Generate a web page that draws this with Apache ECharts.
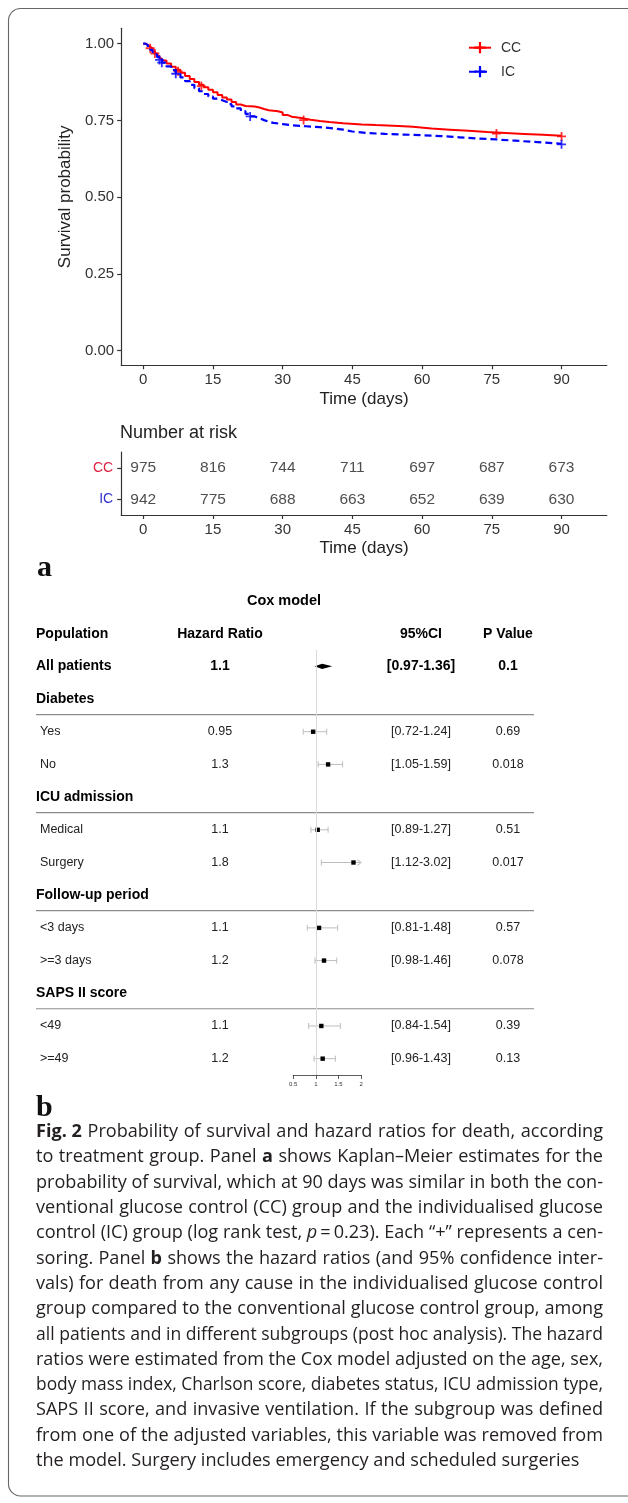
<!DOCTYPE html>
<html><head><meta charset="utf-8">
<script src="https://cdn.jsdelivr.net/npm/echarts@6/dist/echarts.min.js"></script>
<style>html,body{margin:0;padding:0;background:#fff}#c{width:628px;height:1503px}</style>
</head><body><div id="c"></div>
<script>
// ---------------- data ----------------
const timeTicks = [0, 15, 30, 45, 60, 75, 90];
const survTicks = [0, 0.25, 0.5, 0.75, 1];

const ccCurve = [[0,1.0],[0.5,0.995],[1,0.99],[1.5,0.985],[2,0.975],[2.5,0.968],[3,0.96],[3.5,0.952],[4,0.945],[5,0.935],[6,0.925],[7,0.915],[8,0.905],[9,0.895],[10,0.885],[11,0.875],[12,0.866],[13,0.858],[14,0.85],[15,0.842],[16,0.833],[17,0.825],[18,0.818],[19,0.81],[20,0.802],[21,0.797],[22,0.795],[24,0.792],[25,0.787],[26,0.783],[27,0.78],[29,0.776],[30,0.768],[31,0.762],[32,0.758],[34,0.752],[36,0.748],[38,0.745],[40,0.741],[43,0.737],[47,0.735],[50,0.732],[55,0.729],[58,0.724],[62,0.72],[66,0.716],[70,0.712],[74,0.709],[78,0.706],[82,0.703],[86,0.7],[90,0.698]];
const icCurve = [[0,1.0],[0.5,0.995],[1,0.988],[1.5,0.98],[2,0.972],[2.5,0.965],[3,0.956],[3.5,0.947],[4,0.938],[5,0.926],[6,0.914],[7,0.902],[8,0.89],[9,0.878],[10,0.866],[11,0.855],[12,0.845],[13,0.836],[14,0.828],[15,0.821],[16,0.816],[17,0.81],[18,0.803],[19,0.796],[20,0.789],[21,0.78],[22,0.771],[23,0.763],[24,0.757],[25,0.751],[26,0.746],[27,0.742],[28,0.738],[30,0.734],[32,0.731],[35,0.728],[38,0.724],[41,0.72],[43,0.714],[45,0.709],[48,0.706],[52,0.704],[56,0.702],[60,0.699],[64,0.695],[68,0.691],[72,0.688],[76,0.684],[80,0.68],[84,0.676],[88,0.674],[90,0.672]];
const ccCensor = [[1.5,0.985],[2.5,0.968],[7.5,0.91],[12.5,0.862],[34.5,0.751],[76,0.707],[90,0.698]];
const icCensor = [[3.5,0.947],[4,0.938],[7,0.902],[23,0.763],[90,0.672]];

const riskGroups = ['CC', 'IC'];
const ccAtRisk = [975, 816, 744, 711, 697, 687, 673];
const icAtRisk = [942, 775, 688, 663, 652, 639, 630];

const forestRows = ['All patients','Diabetes','Yes','No','ICU admission','Medical','Surgery','Follow-up period','<3 days','>=3 days','SAPS II score','<49','>=49'];
const rowKind   = ['all','group','sub','sub','group','sub','sub','group','sub','sub','group','sub','sub'];
const hrText    = ['1.1',null,'0.95','1.3',null,'1.1','1.8',null,'1.1','1.2',null,'1.1','1.2'];
const hrPlot    = [1.14,null,0.94,1.27,null,1.04,1.83,null,1.07,1.18,null,1.12,1.15];
const ciLow     = [0.97,null,0.72,1.05,null,0.89,1.12,null,0.81,0.98,null,0.84,0.96];
const ciHigh    = [1.36,null,1.24,1.59,null,1.27,3.02,null,1.48,1.46,null,1.54,1.43];
const pText     = ['0.1',null,'0.69','0.018',null,'0.51','0.017',null,'0.57','0.078',null,'0.39','0.13'];
const forestTicks = [0.5, 1, 1.5, 2];
const forestHeaders = ['Population', 'Hazard Ratio', '95%CI', 'P Value'];

const captionLines = [
  '{b|Fig.~2} Probability of survival and hazard ratios for death, according',
  'to treatment group. Panel {b|a} shows Kaplan\u2013Meier estimates for the',
  'probability of survival, which at 90 days was similar in both the con-',
  'ventional glucose control (CC) group and the individualised glucose',
  'control (IC) group (log rank test, {i|p}\u2009=\u20090.23). Each \u201c+\u201d represents a cen-',
  'soring. Panel {b|b} shows the hazard ratios (and 95% confidence inter-',
  'vals) for death from any cause in the individualised glucose control',
  'group compared to the conventional glucose control group, among',
  'all patients and in different subgroups (post hoc analysis). The hazard',
  'ratios were estimated from the Cox model adjusted on the age, sex,',
  'body mass index, Charlson score, diabetes status, ICU admission type,',
  'SAPS II score, and invasive ventilation. If the subgroup was defined',
  'from one of the adjusted variables, this variable was removed from',
  'the model. Surgery includes emergency and scheduled surgeries'
];

// ---------------- layout / style ----------------
const FONT = '"Liberation Sans", Arial, sans-serif';
const CAP_FONT = '"Open Sans"';
const CAP_SIZE = 18.2;
const PLUS = 'path://M-1,-5H1V5H-1Z M-5,-1H5V1H-5Z';
const RED = '#ff0000', BLUE = '#0000ff';

// caption layout (justified lines)
const cv = document.createElement('canvas').getContext('2d');
function segs(tok) {
  const out = []; const re = /\{(\w)\|([^}]*)\}|([^{]+)/g; let m;
  while ((m = re.exec(tok))) {
    if (m[1]) out.push({ st: m[1], t: m[2].replace(/~/g, ' ') });
    else out.push({ st: '', t: m[3].replace(/~/g, ' ') });
  }
  return out;
}
function fontOf(st) { return (st === 'i' ? 'italic ' : '') + (st === 'b' ? 'bold ' : '') + CAP_SIZE + 'px ' + CAP_FONT; }
function tokW(tok) { return segs(tok).reduce((a, s) => { cv.font = fontOf(s.st); return a + cv.measureText(s.t).width; }, 0); }
cv.font = fontOf('');
const SPACE = cv.measureText(' ').width;
const CAP_LEFT = 36, CAP_W = 567, CAP_Y0 = 1132, CAP_DY = 25.3;
const capTok = captionLines.map(l => l.split(' '));
const capWs = capTok.map(ts => ts.map(tokW));
const capSum = capWs.map(ws => ws.reduce((a, b) => a + b, 0));
const nat = capWs.map((ws, i) => capSum[i] + (ws.length - 1) * SPACE);
const justified = nat.slice(0, nat.length - 1);
const baseScale = Math.min(1, CAP_W / (justified.reduce((a, b) => a + b, 0) / justified.length));
const capRich = {
  b: { fontWeight: 'bold', fontSize: CAP_SIZE, fontFamily: CAP_FONT, fill: '#231f20' },
  i: { fontStyle: 'italic', fontSize: CAP_SIZE, fontFamily: CAP_FONT, fill: '#231f20' }
};
const captionGraphics = capTok.map((ts, li) => {
  const ws = capWs[li];
  const sum = capSum[li];
  const last = li === capTok.length - 1;
  const n = ts.length;
  // tighten a line that would otherwise have too-small word gaps
  const s = last ? baseScale : Math.min(baseScale, CAP_W / (sum + (n - 1) * 1.0 * SPACE));
  const gap = last ? SPACE : (CAP_W / s - sum) / (n - 1);
  let x = 0;
  const kids = ts.map((tok, k) => {
    const el = {
      type: 'text', x: x, y: 0,
      style: {
        text: segs(tok).map(sg => sg.st ? '{' + sg.st + '|' + sg.t + '}' : sg.t).join(''),
        fontSize: CAP_SIZE, fontFamily: CAP_FONT, fill: '#231f20',
        rich: capRich, align: 'left', verticalAlign: 'middle'
      }
    };
    x += ws[k] + gap;
    return el;
  });
  return { type: 'group', x: CAP_LEFT, y: CAP_Y0 + li * CAP_DY, scaleX: s, children: kids };
});

function txt(x, y, t, bold, align, size) {
  return { type: 'text', x: x, y: y, style: {
    text: t, fontFamily: FONT, fontWeight: bold ? 'bold' : 'normal',
    fontSize: size || (bold ? 14 : 12.5), fill: bold ? '#000' : '#222',
    align: align, verticalAlign: 'middle' } };
}

const axisLineStyle = { color: '#333', width: 1.2 };

const option = {
  animation: false,
  backgroundColor: '#fff',
  grid: [
    { left: 121.2, top: 28.3, width: 485.6, height: 337 },
    { left: 121.2, top: 452, width: 485.6, height: 63 },
    { left: 293.2, top: 650, width: 68, height: 425 }
  ],
  xAxis: [
    { gridIndex: 0, type: 'value', min: -4.74, max: 99.74,
      axisLine: { show: true, onZero: false, lineStyle: axisLineStyle },
      axisTick: { show: true, customValues: timeTicks, length: 4, lineStyle: axisLineStyle },
      axisLabel: { customValues: timeTicks, fontSize: 15, color: '#333', margin: 7, fontFamily: FONT },
      splitLine: { show: false },
      name: 'Time (days)', nameLocation: 'middle', nameGap: 26,
      nameTextStyle: { fontSize: 17, color: '#222', fontFamily: FONT } },
    { gridIndex: 1, type: 'value', min: -4.74, max: 99.74,
      axisLine: { show: true, onZero: false, lineStyle: axisLineStyle },
      axisTick: { show: true, customValues: timeTicks, length: 4, lineStyle: axisLineStyle },
      axisLabel: { customValues: timeTicks, fontSize: 15, color: '#333', margin: 7.5, fontFamily: FONT },
      splitLine: { show: false },
      name: 'Time (days)', nameLocation: 'middle', nameGap: 24.5,
      nameTextStyle: { fontSize: 17, color: '#222', fontFamily: FONT } },
    { gridIndex: 2, type: 'value', min: 0.5, max: 2, interval: 0.5,
      axisLine: { show: true, onZero: false, lineStyle: { color: '#333', width: 0.8 } },
      axisTick: { show: true, length: 4, lineStyle: { color: '#333', width: 0.8 } },
      axisLabel: { fontSize: 6, color: '#333', margin: 6, fontFamily: FONT },
      splitLine: { show: false } }
  ],
  yAxis: [
    { gridIndex: 0, type: 'value', min: -0.0475, max: 1.05,
      axisLine: { show: true, onZero: false, lineStyle: axisLineStyle },
      axisTick: { show: true, customValues: survTicks, length: 4, lineStyle: axisLineStyle },
      axisLabel: { customValues: survTicks, formatter: v => Number(v).toFixed(2), fontSize: 15, color: '#333', margin: 7, fontFamily: FONT },
      splitLine: { show: false },
      name: 'Survival probability', nameLocation: 'middle', nameGap: 46,
      nameTextStyle: { fontSize: 17, color: '#222', fontFamily: FONT } },
    { gridIndex: 1, type: 'category', data: riskGroups, inverse: true,
      axisLine: { show: true, onZero: false, lineStyle: axisLineStyle },
      axisTick: { show: true, length: 4, alignWithLabel: true, lineStyle: axisLineStyle },
      axisLabel: { fontSize: 14, margin: 8, fontFamily: FONT, color: v => (v === 'CC' ? '#dc2040' : '#3030d0') },
      splitLine: { show: false } },
    { gridIndex: 2, type: 'category', data: forestRows, inverse: true, show: false }
  ],
  legend: {
    data: ['CC', 'IC'], left: 468, top: 40.7, orient: 'vertical', padding: 0,
    itemWidth: 22, itemHeight: 14, itemGap: 10, selectedMode: false,
    textStyle: { fontSize: 14, color: '#333', fontFamily: FONT, padding: [0, 0, 0, 5] }
  },
  series: [
    { name: 'CC', type: 'line', xAxisIndex: 0, yAxisIndex: 0, data: ccCurve, step: 'end',
      showSymbol: false, symbol: PLUS, symbolSize: 10, silent: true,
      lineStyle: { color: RED, width: 2 }, itemStyle: { color: RED }, z: 2 },
    { name: 'CC', type: 'scatter', xAxisIndex: 0, yAxisIndex: 0, data: ccCensor,
      symbol: PLUS, symbolSize: 9, itemStyle: { color: RED }, silent: true, z: 3 },
    { name: 'IC', type: 'line', xAxisIndex: 0, yAxisIndex: 0, data: icCurve, step: 'end',
      showSymbol: false, symbol: PLUS, symbolSize: 10, silent: true,
      lineStyle: { color: BLUE, width: 2.2, type: [7, 4] }, itemStyle: { color: BLUE }, z: 4 },
    { name: 'IC', type: 'scatter', xAxisIndex: 0, yAxisIndex: 0, data: icCensor,
      symbol: PLUS, symbolSize: 9, itemStyle: { color: BLUE }, silent: true, z: 5 },
    { name: 'riskCC', type: 'scatter', xAxisIndex: 1, yAxisIndex: 1,
      data: timeTicks.map((t, k) => [t, 'CC', ccAtRisk[k]]),
      symbolSize: 1, itemStyle: { color: 'rgba(0,0,0,0)' }, silent: true,
      label: { show: true, position: 'inside', formatter: p => String(p.value[2]), fontSize: 15.5, color: '#222', fontFamily: FONT } },
    { name: 'riskIC', type: 'scatter', xAxisIndex: 1, yAxisIndex: 1,
      data: timeTicks.map((t, k) => [t, 'IC', icAtRisk[k]]),
      symbolSize: 1, itemStyle: { color: 'rgba(0,0,0,0)' }, silent: true,
      label: { show: true, position: 'inside', formatter: p => String(p.value[2]), fontSize: 15.5, color: '#222', fontFamily: FONT } },
    { name: 'forest', type: 'custom', xAxisIndex: 2, yAxisIndex: 2, silent: true,
      data: forestRows.map((r, i) => [hrPlot[i] == null ? 1 : hrPlot[i], i]),
      encode: { x: 0, y: 1 },
      markLine: { silent: true, symbol: 'none', label: { show: false },
        lineStyle: { color: '#d9d9d9', width: 1, type: 'solid' }, data: [{ xAxis: 1 }] },
      renderItem: function (params, api) {
        const i = params.dataIndex;
        const kind = rowKind[i];
        const yRow = api.coord([1, i])[1];
        const kids = [];
        kids.push(txt(kind === 'sub' ? 40 : 36, yRow, forestRows[i], kind !== 'sub', 'left'));
        if (kind === 'group') {
          kids.push({ type: 'line', shape: { x1: 36, y1: yRow + 15.5, x2: 534, y2: yRow + 15.5 },
            style: { stroke: '#8c8c8c', lineWidth: 1.2 } });
        }
        if (hrText[i] != null) {
          const b = kind === 'all';
          kids.push(txt(220, yRow, hrText[i], b, 'center'));
          kids.push(txt(421, yRow, '[' + ciLow[i].toFixed(2) + '-' + ciHigh[i].toFixed(2) + ']', b, 'center'));
          kids.push(txt(508, yRow, pText[i], b, 'center'));
          const xMax = forestTicks[forestTicks.length - 1];
          const xl = api.coord([ciLow[i], i])[0];
          const xh = api.coord([Math.min(ciHigh[i], xMax), i])[0];
          const xe = api.coord([hrPlot[i], i])[0];
          if (b) {
            kids.push({ type: 'polygon', shape: { points: [[xl, yRow], [xe, yRow - 2.6], [xh, yRow], [xe, yRow + 2.6]] },
              style: { fill: '#000' } });
          } else {
            kids.push({ type: 'line', shape: { x1: xl, y1: yRow, x2: xh, y2: yRow }, style: { stroke: '#bdbdbd', lineWidth: 1 } });
            kids.push({ type: 'line', shape: { x1: xl, y1: yRow - 3, x2: xl, y2: yRow + 3 }, style: { stroke: '#bdbdbd', lineWidth: 1 } });
            if (ciHigh[i] <= xMax) {
              kids.push({ type: 'line', shape: { x1: xh, y1: yRow - 3, x2: xh, y2: yRow + 3 }, style: { stroke: '#bdbdbd', lineWidth: 1 } });
            } else {
              kids.push({ type: 'polyline', shape: { points: [[xh - 4, yRow - 3], [xh, yRow], [xh - 4, yRow + 3]] },
                style: { stroke: '#bdbdbd', lineWidth: 1, fill: 'none' } });
            }
            kids.push({ type: 'rect', shape: { x: xe - 2.2, y: yRow - 2.2, width: 4.4, height: 4.4 }, style: { fill: '#000' } });
          }
        }
        return { type: 'group', children: kids };
      } }
  ],
  graphic: [
    { type: 'rect', shape: { x: 8.5, y: 8.5, width: 680, height: 1487.5, r: 12 },
      style: { fill: 'none', stroke: '#666', lineWidth: 1.1 }, silent: true, z: 0 },
    { type: 'text', x: 120, y: 433, style: { text: 'Number at risk', fontSize: 18, fontFamily: FONT, fill: '#222', align: 'left', verticalAlign: 'middle' } },
    { type: 'text', x: 37, y: 568, style: { text: 'a', fontSize: 30, fontWeight: 'bold', fontFamily: '"Liberation Serif", serif', fill: '#111', align: 'left', verticalAlign: 'middle' } },
    { type: 'text', x: 284, y: 601, style: { text: 'Cox model', fontSize: 14.5, fontWeight: 'bold', fontFamily: FONT, fill: '#000', align: 'center', verticalAlign: 'middle' } },
    { type: 'text', x: 36, y: 634, style: { text: forestHeaders[0], fontSize: 14, fontWeight: 'bold', fontFamily: FONT, fill: '#000', align: 'left', verticalAlign: 'middle' } },
    { type: 'text', x: 220, y: 634, style: { text: forestHeaders[1], fontSize: 14, fontWeight: 'bold', fontFamily: FONT, fill: '#000', align: 'center', verticalAlign: 'middle' } },
    { type: 'text', x: 421, y: 634, style: { text: forestHeaders[2], fontSize: 14, fontWeight: 'bold', fontFamily: FONT, fill: '#000', align: 'center', verticalAlign: 'middle' } },
    { type: 'text', x: 508, y: 634, style: { text: forestHeaders[3], fontSize: 14, fontWeight: 'bold', fontFamily: FONT, fill: '#000', align: 'center', verticalAlign: 'middle' } },
    { type: 'text', x: 36, y: 1108, style: { text: 'b', fontSize: 30, fontWeight: 'bold', fontFamily: '"Liberation Serif", serif', fill: '#111', align: 'left', verticalAlign: 'middle' } }
  ].concat(captionGraphics)
};

const chart = echarts.init(document.getElementById('c'), null, { renderer: 'canvas', width: 628, height: 1503 });
chart.setOption(option);
</script>
</body></html>
